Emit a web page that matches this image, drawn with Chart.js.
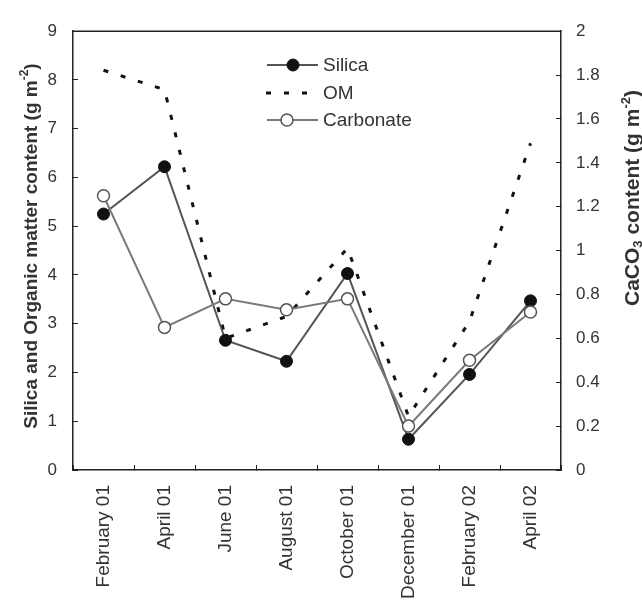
<!DOCTYPE html>
<html>
<head>
<meta charset="utf-8">
<script src="https://cdn.jsdelivr.net/npm/chart.js@4.4.1/dist/chart.umd.min.js"></script>
<style>
  html, body { margin: 0; padding: 0; background: #fff; }
  #wrap { width: 642px; height: 603px; }
</style>
</head>
<body>
<div id="wrap"><canvas id="chart_sed" width="642" height="603"></canvas></div>
<script>
// sampling dates
var meses = ['February 01', 'April 01', 'June 01', 'August 01', 'October 01', 'December 01', 'February 02', 'April 02'];
// g m-2, left axis
var silica = [5.25, 6.22, 2.66, 2.23, 4.03, 0.63, 1.96, 3.47];
var om = [8.2, 7.8, 2.7, 3.15, 4.55, 1.1, 3.05, 6.7];
// CaCO3 g m-2, right axis
var carbonate = [1.25, 0.65, 0.78, 0.73, 0.78, 0.2, 0.5, 0.72];

var fuente = "'Liberation Sans', Arial, sans-serif";
var gris = '#333';

// draws a string made of pieces (normal / sub / super), rotated to read bottom-up
function textoVertical(ctx, cx, cy, piezas) {
    ctx.save();
    ctx.translate(cx, cy);
    ctx.rotate(-Math.PI / 2);
    var total = 0;
    piezas.forEach(function(p) {
        ctx.font = 'bold ' + p.size + 'px ' + fuente;
        p.w = ctx.measureText(p.t).width;
        total += p.w;
    });
    var x = -total / 2;
    ctx.fillStyle = gris;
    ctx.textBaseline = 'middle';
    ctx.textAlign = 'left';
    piezas.forEach(function(p) {
        ctx.font = 'bold ' + p.size + 'px ' + fuente;
        ctx.fillText(p.t, x, p.dy || 0);
        x += p.w;
    });
    ctx.restore();
}

var extras = {
    id: 'extras',
    beforeDatasetsDraw: function(chart) {
        var ctx = chart.ctx, a = chart.chartArea;
        ctx.save();
        ctx.strokeStyle = '#222';
        ctx.lineWidth = 1.5;
        ctx.beginPath();
        ctx.moveTo(a.left, a.top);
        ctx.lineTo(a.right, a.top);
        ctx.stroke();
        ctx.restore();
    },
    afterDraw: function(chart) {
        var ctx = chart.ctx;

        // axis titles
        textoVertical(ctx, 32, 246, [
            { t: 'Silica and Organic matter content (g m', size: 19 },
            { t: '-2', size: 12, dy: -7 },
            { t: ')', size: 19 }
        ]);
        textoVertical(ctx, 633, 198, [
            { t: 'CaCO', size: 21 },
            { t: '3', size: 13, dy: 5 },
            { t: ' content (g m', size: 21 },
            { t: '-2', size: 13, dy: -7 },
            { t: ')', size: 21 }
        ]);

        // legend
        var filas = [65, 93, 120];
        var marcaX = [293, 293, 287];
        chart.data.datasets.forEach(function(ds, i) {
            var y = filas[i];
            ctx.save();
            ctx.strokeStyle = ds.borderColor;
            ctx.lineWidth = ds.borderWidth;
            ctx.setLineDash(ds.borderDash || []);
            ctx.beginPath();
            if (ds.borderDash) {
                ctx.moveTo(266, y);
                ctx.lineTo(310, y);
            } else {
                ctx.moveTo(267, y);
                ctx.lineTo(318, y);
            }
            ctx.stroke();
            ctx.setLineDash([]);
            if (ds.pointRadius > 0) {
                ctx.beginPath();
                ctx.arc(marcaX[i], y, ds.pointRadius, 0, Math.PI * 2);
                ctx.fillStyle = ds.pointBackgroundColor;
                ctx.fill();
                ctx.lineWidth = ds.pointBorderWidth;
                ctx.strokeStyle = ds.pointBorderColor;
                ctx.stroke();
            }
            ctx.fillStyle = gris;
            ctx.font = '19px ' + fuente;
            ctx.textBaseline = 'middle';
            ctx.fillText(ds.label, 323, y + 1);
            ctx.restore();
        });
    }
};

var ctx_sed = document.getElementById('chart_sed');

var chart_sed = new Chart(ctx_sed, {
    type: 'line',
    data: {
        labels: meses,
        datasets: [
            {
                label: 'Silica',
                data: silica,
                yAxisID: 'y',
                borderColor: '#555',
                borderWidth: 2,
                pointRadius: 6,
                pointBackgroundColor: '#111',
                pointBorderColor: '#111',
                pointBorderWidth: 1,
                order: 1
            },
            {
                label: 'OM',
                data: om,
                yAxisID: 'y',
                borderColor: '#111',
                borderWidth: 3,
                borderDash: [5, 13],
                pointRadius: 0,
                order: 2
            },
            {
                label: 'Carbonate',
                data: carbonate,
                yAxisID: 'y1',
                borderColor: '#7a7a7a',
                borderWidth: 2,
                pointRadius: 6,
                pointBackgroundColor: '#fff',
                pointBorderColor: '#555',
                pointBorderWidth: 1.5,
                order: 0
            }
        ]
    },
    options: {
        responsive: false,
        animation: false,
        devicePixelRatio: 1,
        layout: { padding: { top: 18, left: 0, right: 0, bottom: 0 } },
        plugins: {
            legend: { display: false },
            tooltip: { enabled: false }
        },
        scales: {
            x: {
                offset: true,
                grid: {
                    offset: true,
                    drawOnChartArea: false,
                    tickLength: -5,
                    color: '#222'
                },
                border: { color: '#222', width: 1.5 },
                ticks: {
                    color: gris,
                    font: { family: fuente, size: 19 },
                    minRotation: 90,
                    maxRotation: 90,
                    padding: 20
                },
                afterFit: function(s) { s.height = 133; }
            },
            y: {
                position: 'left',
                min: 0,
                max: 9,
                grid: { drawOnChartArea: false, tickLength: -5, color: '#222' },
                border: { color: '#222', width: 1.5 },
                ticks: {
                    stepSize: 1,
                    color: gris,
                    font: { family: fuente, size: 17 },
                    padding: 21
                },
                afterFit: function(s) { s.width = 73; }
            },
            y1: {
                position: 'right',
                min: 0,
                max: 2,
                grid: { drawOnChartArea: false, tickLength: -5, color: '#222' },
                border: { color: '#222', width: 1.5 },
                ticks: {
                    stepSize: 0.2,
                    color: gris,
                    font: { family: fuente, size: 17 },
                    padding: 20,
                    callback: function(v) { return String(Number(v.toFixed(1))); }
                },
                afterFit: function(s) { s.width = 81; }
            }
        }
    },
    plugins: [extras]
});
</script>
</body>
</html>
